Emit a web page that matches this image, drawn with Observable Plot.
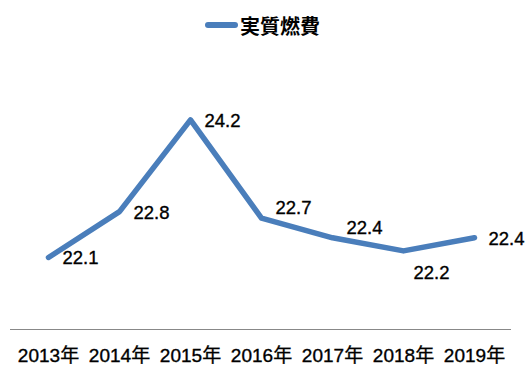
<!DOCTYPE html>
<html><head><meta charset="utf-8">
<script src="https://cdn.jsdelivr.net/npm/d3@7"></script>
<script src="https://cdn.jsdelivr.net/npm/@observablehq/plot@0.6"></script>
<style>
body{margin:0;background:#fff;font-family:"Liberation Sans","Noto Sans CJK JP",sans-serif;}
#legend{position:relative;width:528px;height:50px;}
#legend .sw{position:absolute;left:205px;top:22px;width:33px;height:6px;background:#4a7ebb;border-radius:3px;}
#legend .tx{position:absolute;left:240px;top:12px;font:bold 20px "Noto Sans CJK JP",sans-serif;line-height:28px;color:#000;}
#chart svg{display:block;}
#chart svg text{stroke:#000;stroke-width:0.35px;}
</style></head><body>
<div id="legend"><div class="sw"></div><div class="tx" id="legendText"></div></div>
<div id="chart"></div>
<script>
const years = ["2013年","2014年","2015年","2016年","2017年","2018年","2019年"];
const values = [22.1, 22.8, 24.2, 22.7, 22.4, 22.2, 22.4];
const seriesName = "実質燃費";
const yDomain = [21, 25];

document.getElementById("legendText").textContent = seriesName;

const data = years.map((y, i) => ({year: y, value: values[i]}));
const rightLabels = new Set(["2013年","2014年","2015年","2019年"]);
const aboveLabels = new Set(["2016年","2017年"]);
const belowLabels = new Set(["2018年"]);
const fam = '"Liberation Sans","Noto Sans CJK JP",sans-serif';
const font = {fontSize: 18.5, fill: "#000", fontFamily: fam};

const chart = Plot.plot({
  width: 528,
  height: 339,
  marginLeft: 10,
  marginRight: 17,
  marginTop: 17,
  marginBottom: 60,
  style: {background: "#fff", fontFamily: fam},
  x: {type: "point", domain: years, padding: 0.5, label: null},
  y: {domain: yDomain, axis: null},
  marks: [
    Plot.ruleY([yDomain[0]], {stroke: "#888", strokeWidth: 1}),
    Plot.axisX({tickSize: 0, tickPadding: 19, fontSize: 19, fill: "#000", label: null}),
    Plot.line(data, {x: "year", y: "value", stroke: "#4a7ebb", strokeWidth: 5.5, strokeLinejoin: "round"}),
    Plot.text(data.filter(d => rightLabels.has(d.year)), {x: "year", y: "value", text: d => d.value.toFixed(1), textAnchor: "start", dx: 14, dy: 1, ...font}),
    Plot.text(data.filter(d => aboveLabels.has(d.year)), {x: "year", y: "value", text: d => d.value.toFixed(1), textAnchor: "start", dx: 14, dy: -10, ...font}),
    Plot.text(data.filter(d => belowLabels.has(d.year)), {x: "year", y: "value", text: d => d.value.toFixed(1), textAnchor: "start", dx: 10, dy: 22, ...font})
  ]
});
document.getElementById("chart").appendChild(chart);
</script>
</body></html>
